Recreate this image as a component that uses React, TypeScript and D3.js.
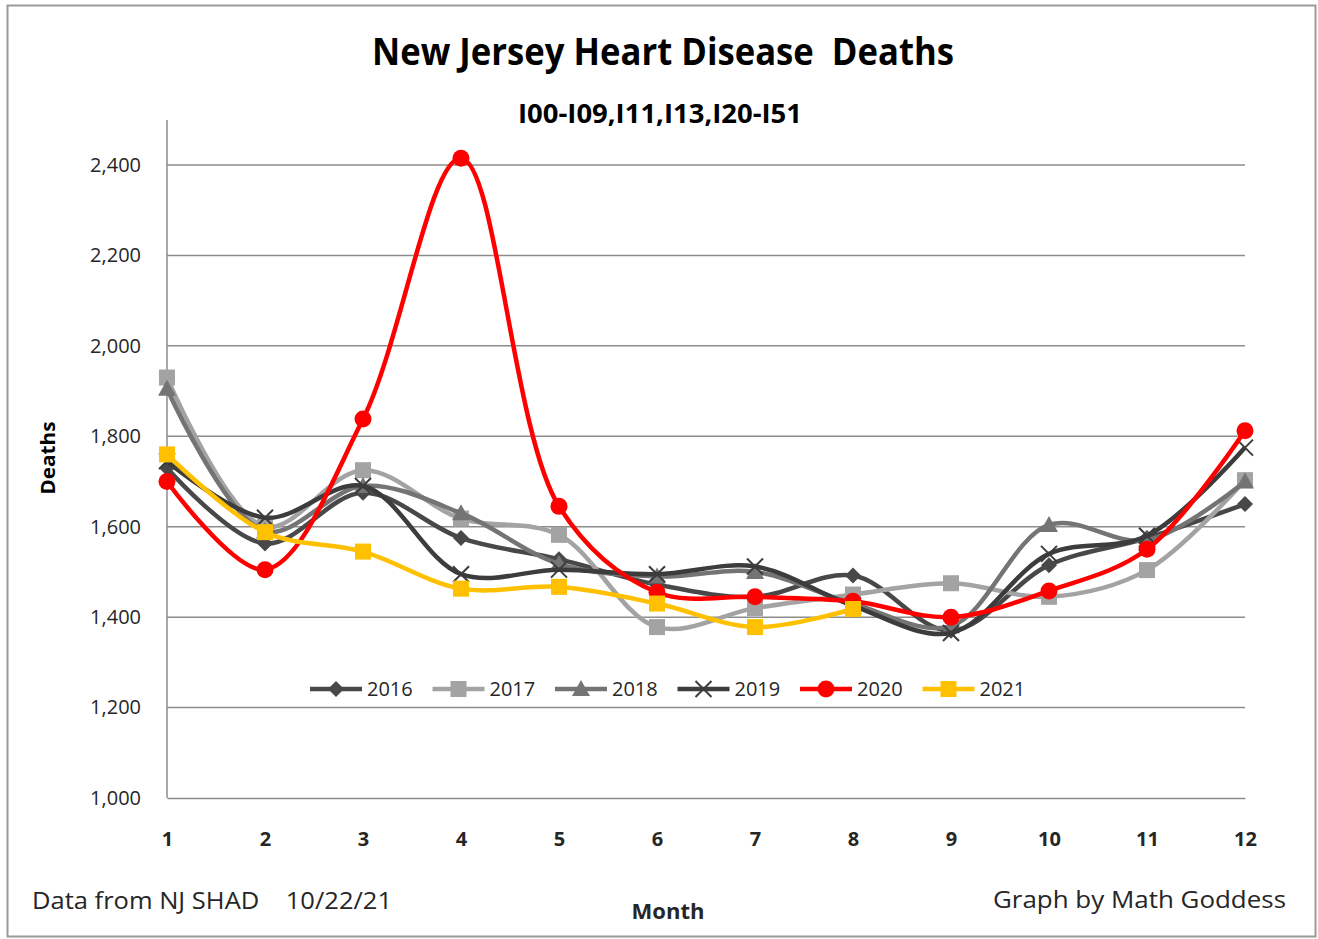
import React, { useEffect, useRef } from "react";
import * as d3 from "d3";

const months = [1, 2, 3, 4, 5, 6, 7, 8, 9, 10, 11, 12];
const yTicks = [1000, 1200, 1400, 1600, 1800, 2000, 2200, 2400];

const deaths2016 = [1730, 1563, 1675, 1575, 1528, 1472, 1445, 1492, 1370, 1515, 1575, 1650];
const deaths2017 = [1930, 1600, 1725, 1618, 1582, 1378, 1420, 1450, 1475, 1445, 1504, 1703];
const deaths2018 = [1905, 1590, 1690, 1630, 1518, 1490, 1500, 1430, 1380, 1604, 1570, 1700];
const deaths2019 = [1745, 1620, 1690, 1495, 1505, 1495, 1512, 1425, 1365, 1540, 1580, 1775];
const deaths2020 = [1700, 1505, 1838, 2415, 1645, 1455, 1445, 1435, 1400, 1458, 1550, 1812];
const deaths2021 = [1760, 1588, 1545, 1463, 1467, 1430, 1378, 1418];

const series = [
  { name: "2016", values: deaths2016, color: "#484848", marker: "diamond" },
  { name: "2017", values: deaths2017, color: "#a3a3a3", marker: "square" },
  { name: "2018", values: deaths2018, color: "#747474", marker: "triangle" },
  { name: "2019", values: deaths2019, color: "#3c3c3c", marker: "x" },
  { name: "2020", values: deaths2020, color: "#ff0000", marker: "circle" },
  { name: "2021", values: deaths2021, color: "#ffc000", marker: "square" },
];

const font = "'Open Sans', sans-serif";
const textColor = "#262626";

const drawMarker = (g, type, color, x, y) => {
  if (type === "diamond") {
    g.append("path").attr("d", `M${x},${y - 8}L${x + 8},${y}L${x},${y + 8}L${x - 8},${y}Z`).attr("fill", color);
  } else if (type === "square") {
    g.append("rect").attr("x", x - 8).attr("y", y - 8).attr("width", 16).attr("height", 16).attr("fill", color);
  } else if (type === "triangle") {
    g.append("path").attr("d", `M${x},${y - 9}L${x + 9},${y + 7}L${x - 9},${y + 7}Z`).attr("fill", color);
  } else if (type === "x") {
    g.append("path").attr("d", `M${x - 8},${y - 8}L${x + 8},${y + 8}M${x + 8},${y - 8}L${x - 8},${y + 8}`)
      .attr("stroke", color).attr("stroke-width", 2);
  } else if (type === "circle") {
    g.append("circle").attr("cx", x).attr("cy", y).attr("r", 8.5).attr("fill", color);
  }
};

const App = () => {
  const svgRef = useRef(null);

  useEffect(() => {
    const width = 1318;
    const height = 939;
    const margin = { top: 120, right: 73, bottom: 141, left: 167 };

    const svg = d3.select(svgRef.current);
    svg.selectAll("*").remove();
    svg.attr("width", width).attr("height", height).style("background", "#fff");

    svg.append("rect").attr("x", 7.5).attr("y", 5.5).attr("width", 1308).attr("height", 931)
      .attr("fill", "none").attr("stroke", "#9a9a9a").attr("stroke-width", 2);

    const xScale = d3.scaleLinear().domain([1, 12]).range([margin.left, width - margin.right]);
    const yScale = d3.scaleLinear().domain([1000, 2400]).range([height - margin.bottom, 165]);

    // gridlines
    svg.append("g").selectAll("line").data(yTicks.slice(1)).join("line")
      .attr("x1", margin.left).attr("x2", width - margin.right)
      .attr("y1", (d) => yScale(d)).attr("y2", (d) => yScale(d))
      .attr("stroke", "#8c8c8c").attr("stroke-width", 1.5);

    const yAxis = d3.axisLeft(yScale).tickValues(yTicks).tickSize(0).tickPadding(26)
      .tickFormat(d3.format(","));
    const yg = svg.append("g").attr("transform", `translate(${margin.left},0)`).call(yAxis);
    yg.select(".domain").remove();
    yg.selectAll("text").attr("font-family", font).attr("font-size", 20).attr("fill", textColor);
    svg.append("line").attr("x1", margin.left).attr("x2", margin.left).attr("y1", margin.top).attr("y2", yScale(1000))
      .attr("stroke", "#8c8c8c").attr("stroke-width", 1.5);

    const xAxis = d3.axisBottom(xScale).tickValues(months).tickSize(0).tickPadding(34).tickFormat(d3.format("d"));
    const xg = svg.append("g").attr("transform", `translate(0,${yScale(1000)})`).call(xAxis);
    xg.select(".domain").attr("stroke", "#8c8c8c").attr("stroke-width", 1.5);
    xg.selectAll("text").attr("font-family", font).attr("font-size", 20).attr("font-weight", "bold")
      .attr("fill", textColor);

    const line = d3.line()
      .x((d, i) => xScale(months[i]))
      .y((d) => yScale(d))
      .curve(d3.curveCatmullRom.alpha(0.5));

    series.forEach((s) => {
      svg.append("path").datum(s.values).attr("d", line)
        .attr("fill", "none").attr("stroke", s.color).attr("stroke-width", 4.5)
        .attr("stroke-linejoin", "round");
      const mg = svg.append("g");
      s.values.forEach((v, i) => drawMarker(mg, s.marker, s.color, xScale(months[i]), yScale(v)));
    });

    // legend
    const legend = svg.append("g");
    let lx = 310;
    const ly = 689;
    series.forEach((s) => {
      legend.append("line").attr("x1", lx).attr("x2", lx + 52).attr("y1", ly).attr("y2", ly)
        .attr("stroke", s.color).attr("stroke-width", 4.5);
      drawMarker(legend, s.marker, s.color, lx + 26, ly);
      legend.append("text").attr("x", lx + 57).attr("y", ly + 7).text(s.name)
        .attr("font-family", font).attr("font-size", 20).attr("fill", textColor);
      lx += 122.5;
    });

    svg.append("text").attr("x", 663).attr("y", 65).attr("text-anchor", "middle")
      .attr("font-family", font).attr("font-weight", "bold").attr("font-size", 37)
      .attr("textLength", 582).attr("lengthAdjust", "spacingAndGlyphs")
      .style("white-space", "pre")
      .text("New Jersey Heart Disease  Deaths");
    svg.append("text").attr("x", 660).attr("y", 123).attr("text-anchor", "middle")
      .attr("font-family", font).attr("font-weight", "bold").attr("font-size", 27)
      .attr("textLength", 284).attr("lengthAdjust", "spacingAndGlyphs")
      .text("I00-I09,I11,I13,I20-I51");
    svg.append("text").attr("transform", "translate(55,458) rotate(-90)").attr("text-anchor", "middle")
      .attr("font-family", font).attr("font-weight", "bold").attr("font-size", 19)
      .attr("textLength", 73).attr("lengthAdjust", "spacingAndGlyphs").text("Deaths");
    svg.append("text").attr("x", 668).attr("y", 919).attr("text-anchor", "middle")
      .attr("font-family", font).attr("font-weight", "bold").attr("font-size", 22)
      .attr("fill", textColor).text("Month");
    svg.append("text").attr("x", 32).attr("y", 909)
      .attr("font-family", font).attr("font-size", 24).attr("fill", textColor)
      .attr("textLength", 360).attr("lengthAdjust", "spacingAndGlyphs")
      .style("white-space", "pre").text("Data from NJ SHAD    10/22/21");
    svg.append("text").attr("x", 993).attr("y", 908)
      .attr("font-family", font).attr("font-size", 24).attr("fill", textColor)
      .attr("textLength", 293).attr("lengthAdjust", "spacingAndGlyphs")
      .text("Graph by Math Goddess");
  }, []);

  return (
    <div style={{ position: "absolute", left: 0, top: 0 }}>
      <svg ref={svgRef} />
    </div>
  );
};

export default App;
